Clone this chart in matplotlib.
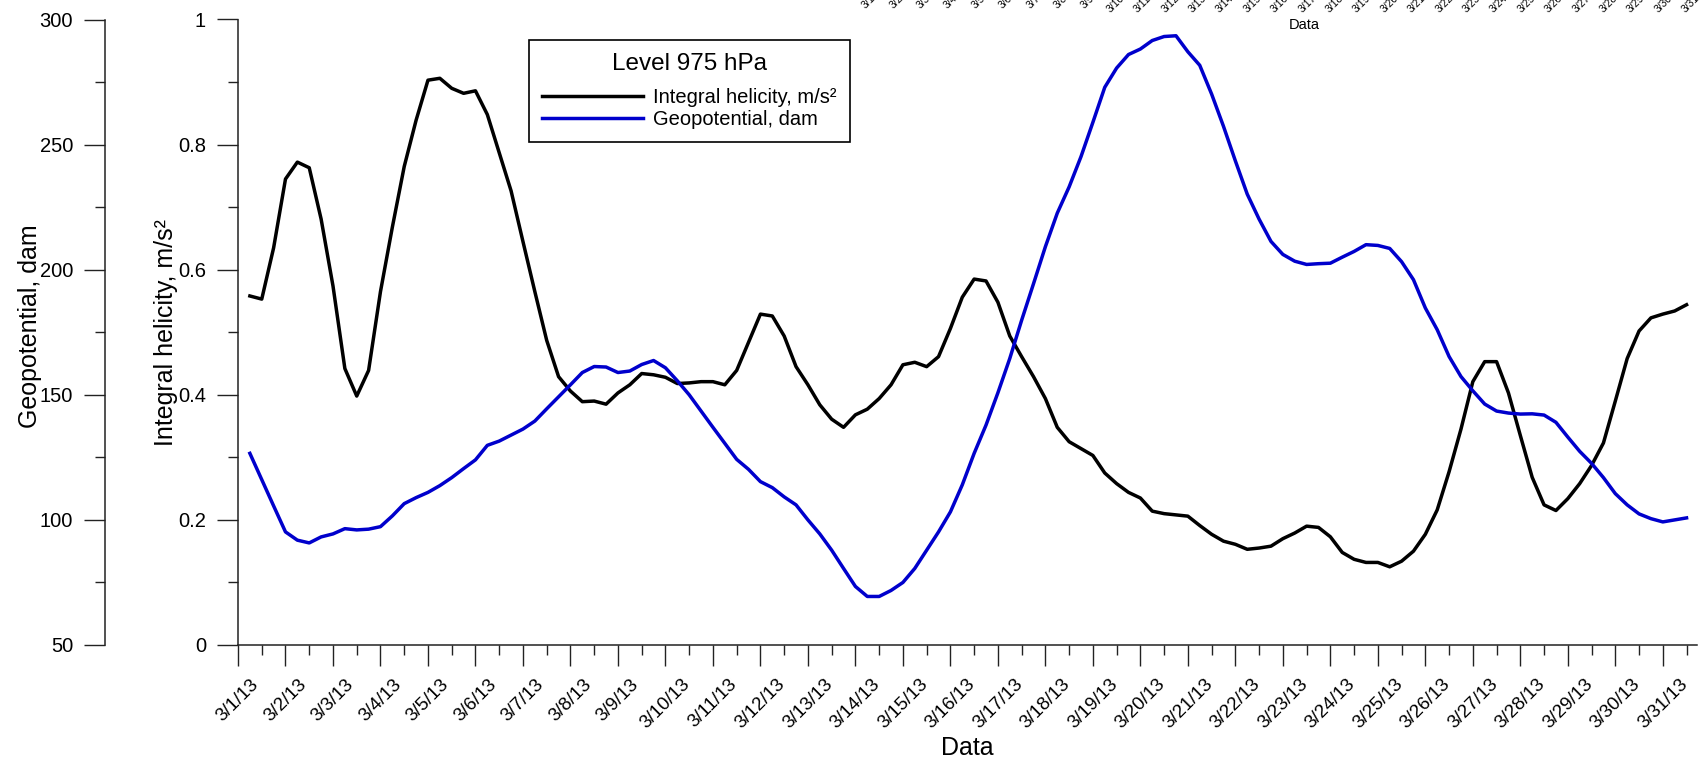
import matplotlib
matplotlib.use("Agg")
import matplotlib.pyplot as plt
import matplotlib.dates as mdates
from matplotlib.ticker import MultipleLocator, FuncFormatter
import pandas as pd

plt.rcParams['font.family'] = ['Liberation Sans', 'DejaVu Sans']

# 6-hourly samples, 3/1/13 06:00 ... 3/31/13 12:00
times = pd.date_range('2013-03-01 06:00', periods=122, freq='6h')

# integral helicity, m/s^2
helicity = [
    0.558, 0.553, 0.635, 0.745, 0.772, 0.763, 0.681, 0.574, 0.442, 0.398,
    0.439, 0.565, 0.668, 0.765, 0.839, 0.903, 0.906, 0.890, 0.882, 0.886,
    0.848, 0.787, 0.726, 0.645, 0.565, 0.487, 0.429, 0.406, 0.389, 0.390,
    0.385, 0.403, 0.416, 0.434, 0.432, 0.428, 0.418, 0.419, 0.421, 0.421,
    0.416, 0.439, 0.484, 0.529, 0.526, 0.494, 0.445, 0.416, 0.384, 0.361,
    0.348, 0.368, 0.377, 0.394, 0.416, 0.448, 0.452, 0.445, 0.461, 0.506,
    0.556, 0.585, 0.582, 0.548, 0.494, 0.461, 0.429, 0.394, 0.348, 0.325,
    0.314, 0.303, 0.275, 0.258, 0.244, 0.235, 0.214, 0.210, 0.208, 0.206,
    0.191, 0.177, 0.166, 0.161, 0.153, 0.155, 0.158, 0.170, 0.179, 0.190,
    0.188, 0.173, 0.148, 0.137, 0.132, 0.132, 0.125, 0.134, 0.150, 0.177,
    0.216, 0.277, 0.345, 0.421, 0.453, 0.453, 0.403, 0.335, 0.268, 0.224,
    0.215, 0.234, 0.258, 0.287, 0.323, 0.390, 0.458, 0.502, 0.523, 0.529,
    0.534, 0.544,
]

# geopotential, dam
geopotential = [
    126.6, 116.1, 105.6, 95.2, 91.9, 90.8, 93.2, 94.4, 96.5, 96.0,
    96.3, 97.3, 101.6, 106.5, 108.9, 111.0, 113.7, 116.9, 120.5, 124.0,
    129.8, 131.5, 133.9, 136.3, 139.5, 144.4, 149.2, 154.0, 158.9, 161.3,
    161.1, 158.9, 159.5, 162.1, 163.7, 160.8, 155.6, 150.0, 143.5, 137.0,
    130.6, 124.2, 120.2, 115.3, 112.9, 109.2, 106.0, 100.0, 94.4, 87.9,
    80.6, 73.4, 69.4, 69.4, 71.8, 75.0, 80.6, 87.9, 95.2, 103.2,
    114.0, 126.6, 137.9, 150.8, 164.5, 179.8, 194.4, 209.2, 222.6, 233.1,
    245.2, 258.9, 272.9, 280.6, 286.0, 288.2, 291.6, 293.2, 293.5, 287.1,
    281.7, 270.2, 257.3, 243.5, 230.2, 220.2, 211.3, 206.1, 203.4, 202.1,
    202.4, 202.6, 205.0, 207.3, 210.0, 209.7, 208.5, 203.2, 196.0, 184.7,
    176.0, 165.3, 157.3, 151.6, 146.3, 143.5, 142.7, 142.3, 142.4, 141.9,
    139.0, 133.1, 127.4, 122.6, 116.9, 110.5, 106.0, 102.4, 100.5, 99.2,
    100.0, 100.8,
]

line_color = '#222222'
blue = '#0000CC'

fig = plt.figure(figsize=(17.03, 7.6), dpi=100)
ax = fig.add_axes([238 / 1703, 1 - 645 / 760, (1697 - 238) / 1703, (645 - 19.5) / 760])
ax2 = ax.twinx()

l1, = ax.plot(times, helicity, color='black', lw=2.5, label='Integral helicity, m/s²')
l2, = ax2.plot(times, geopotential, color=blue, lw=2.5, label='Geopotential, dam')

t0 = pd.Timestamp('2013-03-01')
ax.set_xlim(t0, t0 + pd.Timedelta(days=30.72))
ax.set_ylim(0, 1)
ax2.set_ylim(50, 300)

for s in ['top', 'right']:
    ax.spines[s].set_visible(False)
for s in ['top', 'right', 'bottom']:
    ax2.spines[s].set_visible(False)
ax2.spines['left'].set_visible(True)
ax2.spines['left'].set_position(('axes', (105 - 238) / 1459))
ax2.yaxis.set_ticks_position('left')
ax2.yaxis.set_label_position('left')
for a in (ax, ax2):
    for sp in a.spines.values():
        sp.set_color(line_color)
        sp.set_linewidth(1.1)

# x axis
ax.xaxis.set_major_locator(mdates.DayLocator())
ax.xaxis.set_minor_locator(mdates.HourLocator(byhour=12))
ax.xaxis.set_major_formatter(mdates.DateFormatter('%-m/%-d/%y'))
ax.tick_params(axis='x', which='major', length=15, width=1.0, color=line_color,
               labelsize=13.5, pad=7)
ax.tick_params(axis='x', which='minor', length=7.2, width=1.0, color=line_color)
for lab in ax.get_xticklabels():
    lab.set_rotation(45)
    lab.set_ha('center')

fmt = FuncFormatter(lambda v, _: f'{v:g}')
ax.yaxis.set_major_locator(MultipleLocator(0.2))
ax.yaxis.set_minor_locator(MultipleLocator(0.1))
ax.yaxis.set_major_formatter(fmt)
ax2.yaxis.set_major_locator(MultipleLocator(50))
ax2.yaxis.set_minor_locator(MultipleLocator(25))
ax2.yaxis.set_major_formatter(fmt)
for a in (ax, ax2):
    a.tick_params(axis='y', which='major', length=15, width=1.0, color=line_color,
                  labelsize=14.5, pad=8)
    a.tick_params(axis='y', which='minor', length=7.2, width=1.0, color=line_color)

ax.set_xlabel('Data', fontsize=18)
ax.xaxis.set_label_coords(0.5, -0.145)
ax.set_ylabel('Integral helicity, m/s²', fontsize=18)
ax.yaxis.set_label_coords(-0.041, 0.5)
ax2.set_ylabel('Geopotential, dam', fontsize=18)
ax2.yaxis.set_label_coords(-0.134, 0.51)

leg = ax2.legend(handles=[l1, l2], title='Level 975 hPa', title_fontsize=17.5,
                 fontsize=14.5, loc='upper left', bbox_to_anchor=(0.1995, 0.967),
                 borderaxespad=0, fancybox=False, framealpha=1, edgecolor='black',
                 handlelength=5, handletextpad=0.5, labelspacing=0.15, borderpad=0.65)
leg.get_frame().set_linewidth(1.2)
leg._legend_box.sep = 9  # a bit more room under the title

# stray date axis clipped at the top edge of the picture
axt = fig.add_axes([874 / 1703, 777 / 760, (1696 - 874) / 1703, 100 / 760])
axt.patch.set_visible(False)
for sp in axt.spines.values():
    sp.set_visible(False)
axt.set_xlim(t0, t0 + pd.Timedelta(days=30))
axt.xaxis.set_major_locator(mdates.DayLocator())
axt.xaxis.set_major_formatter(mdates.DateFormatter('%-m/%-d/%y'))
axt.set_yticks([])
axt.tick_params(axis='x', length=0, labelsize=7.5, pad=0)
for lab in axt.get_xticklabels():
    lab.set_rotation(45)
    lab.set_ha('center')
axt.set_xlabel('Data', fontsize=10.5)
axt.xaxis.set_label_coords(0.524, -0.35)

fig.savefig('out.png', dpi=100)
